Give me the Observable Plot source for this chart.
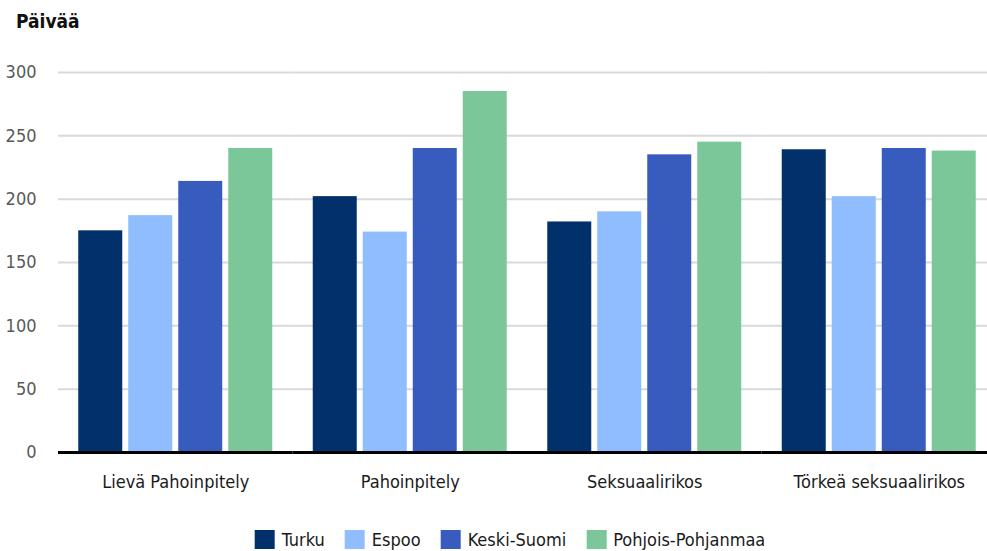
<!DOCTYPE html>
<html>
<head>
<meta charset="utf-8">
<script src="https://cdn.jsdelivr.net/npm/d3@7"></script>
<script src="https://cdn.jsdelivr.net/npm/@observablehq/plot@0.6"></script>
<style>
  html, body { margin: 0; padding: 0; background: #fff; overflow: hidden; }
  body { font-family: "DejaVu Sans Condensed", "DejaVu Sans", sans-serif; font-stretch: condensed; }
  #wrap { position: relative; width: 987px; height: 551px; }
  #chart svg text { font-stretch: condensed; }
  #title { position: absolute; left: 16px; top: 10px; font-size: 19px; font-weight: bold; color: #111; }
  #legend { position: absolute; left: 510px; transform: translateX(-50%); top: 529px; display: flex; align-items: center; font-size: 18px; color: #1a1a1a; white-space: nowrap; }
  .item { display: flex; align-items: center; margin-right: 20px; }
  .item:last-child { margin-right: 0; }
  .sw { width: 20px; height: 19px; margin-right: 7px; }
</style>
</head>
<body>
<div id="wrap">
  <div id="chart"></div>
  <div id="title">Päivää</div>
  <div id="legend"></div>
</div>
<script>
const categories = ["Lievä Pahoinpitely", "Pahoinpitely", "Seksuaalirikos", "Törkeä seksuaalirikos"];
const seriesNames = ["Turku", "Espoo", "Keski-Suomi", "Pohjois-Pohjanmaa"];
const turku = [175, 202, 182, 239];
const espoo = [187, 174, 190, 202];
const keskiSuomi = [214, 240, 235, 240];
const pohjoisPohjanmaa = [240, 285, 245, 238];
const yTicks = [0, 50, 100, 150, 200, 250, 300];
const colors = ["#02306a", "#90bdfe", "#385bbe", "#7cc799"];

const seriesValues = [turku, espoo, keskiSuomi, pohjoisPohjanmaa];
const data = [];
categories.forEach((c, i) => {
  seriesNames.forEach((s, j) => {
    data.push({category: c, series: s, value: seriesValues[j][i]});
  });
});

const font = '"DejaVu Sans Condensed", "DejaVu Sans", sans-serif';

const chart = Plot.plot({
  width: 987,
  height: 551,
  marginTop: 72,
  marginBottom: 99,
  marginLeft: 58,
  marginRight: -9,
  style: {fontFamily: font, background: "#fff"},
  fx: {domain: categories, padding: 0, label: null, round: false},
  x: {domain: seriesNames, paddingInner: 0.12, paddingOuter: 0.405, axis: null, round: false},
  y: {domain: [0, 300], label: null},
  color: {domain: seriesNames, range: colors},
  marks: [
    Plot.gridY(yTicks.filter(d => d > 0), {stroke: "#d9d9d9", strokeOpacity: 1, strokeWidth: 2}),
    Plot.axisY(yTicks, {tickSize: 0, tickPadding: 22, fontSize: 18, fill: "#595959", label: null}),
    Plot.barY(data, {fx: "category", x: "series", y: "value", fill: "series"}),
    Plot.ruleY([0], {stroke: "#000", strokeWidth: 3}),
    Plot.axisFx({anchor: "bottom", tickSize: 0, tickPadding: 23, fontSize: 18, fill: "#1a1a1a", label: null})
  ]
});
document.getElementById("chart").appendChild(chart);

const legend = d3.select("#legend");
seriesNames.forEach((s, i) => {
  const it = legend.append("div").attr("class", "item");
  it.append("div").attr("class", "sw").style("background", colors[i]);
  it.append("span").text(s);
});
</script>
</body>
</html>
